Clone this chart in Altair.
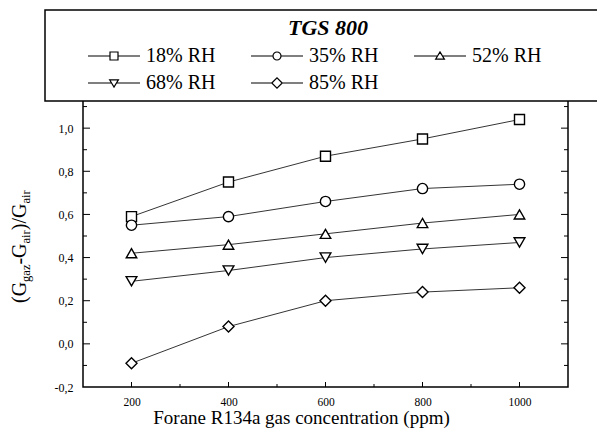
import altair as alt
import pandas as pd

# ---------------- data ----------------
conc = [200, 400, 600, 800, 1000]
series = ["18% RH", "35% RH", "52% RH", "68% RH", "85% RH"]
rh18 = [0.59, 0.75, 0.87, 0.95, 1.04]
rh35 = [0.55, 0.59, 0.66, 0.72, 0.74]
rh52 = [0.42, 0.46, 0.51, 0.56, 0.60]
rh68 = [0.29, 0.34, 0.40, 0.44, 0.47]
rh85 = [-0.09, 0.08, 0.20, 0.24, 0.26]

x_labels = [200, 400, 600, 800, 1000]
x_minor = [300, 500, 700, 900]
y_labels = [-0.2, 0.0, 0.2, 0.4, 0.6, 0.8, 1.0]
y_major = [0.0, 0.2, 0.4, 0.6, 0.8, 1.0, 1.2]
y_minor = [-0.1, 0.1, 0.3, 0.5, 0.7, 0.9, 1.1]

legend_title = "TGS 800"
x_title = "Forane R134a gas concentration (ppm)"

rows = []
for name, vals in zip(series, [rh18, rh35, rh52, rh68, rh85]):
    for c, v in zip(conc, vals):
        rows.append({"conc": c, "val": v, "series": name})
df = pd.DataFrame(rows)

# ---------------- layout ----------------
W, H = 485, 302
PAD = {"left": 83, "top": 85, "right": 29, "bottom": 48}
SERIF = "Liberation Serif"

xs = alt.Scale(domain=[100, 1100], nice=False, zero=False)
ys = alt.Scale(domain=[-0.2, 1.2], nice=False, zero=False)

x_axis = alt.Axis(
    values=x_labels, format="d", domain=False, ticks=False, grid=False,
    labelFont=SERIF, labelFontSize=11.5, labelColor="black", labelPadding=9,
    labelFlush=False, title=x_title, titleFont=SERIF, titleFontSize=19,
    titleFontWeight="normal", titleColor="black", titleX=218, titleY=36,
    titleAlign="center", titleBaseline="alphabetic",
)
y_axis = alt.Axis(
    values=y_labels,
    labelExpr="replace(replace(format(datum.value, '.1f'), '.', ','), '\u2212', '-')",
    domain=False, ticks=False, grid=False, labelFont=SERIF, labelFontSize=12,
    labelColor="black", labelPadding=10, title=None,
)

X = alt.X("conc:Q", scale=xs, axis=x_axis)
Y = alt.Y("val:Q", scale=ys, axis=y_axis)

lines = alt.Chart(df).mark_line(color="black", strokeWidth=0.8).encode(
    x=X, y=Y, detail="series:N"
)

points = alt.Chart(df).mark_point(
    filled=True, fill="white", stroke="black", strokeWidth=1.4, opacity=1
).encode(
    x=X, y=Y,
    shape=alt.Shape("series:N", legend=None, scale=alt.Scale(
        domain=series,
        range=["square", "circle", "triangle-up", "triangle-down", "diamond"])),
    size=alt.Size("series:N", legend=None, scale=alt.Scale(
        domain=series, range=[100, 121, 150, 150, 140])),
)

# tick marks (inward), drawn from the tick value lists through the scales
def yticks(vals, length):
    d = pd.DataFrame({"val": vals})
    left = alt.Chart(d).mark_rule(color="black", strokeWidth=1).encode(
        y=Y, x=alt.value(0), x2=alt.value(length))
    right = alt.Chart(d).mark_rule(color="black", strokeWidth=1).encode(
        y=Y, x=alt.value(W), x2=alt.value(W - length))
    return [left, right]

def xticks(vals, length):
    d = pd.DataFrame({"conc": vals})
    return [alt.Chart(d).mark_rule(color="black", strokeWidth=1).encode(
        x=X, y=alt.value(H), y2=alt.value(H - length))]

ticks = yticks(y_major, 7) + yticks(y_minor, 4) + xticks(x_labels, 5) + xticks(x_minor, 3)

# legend: symbols are line-shape-line glyphs
def glyph(shape, half, extra=""):
    return f"M-6.5,0H-{half}M{half},0H6.5" + shape + extra

legend_paths = [
    glyph("M-1,-1H1V1H-1Z", 1),
    glyph("M-1,0A1,1 0 1,1 1,0A1,1 0 1,1 -1,0Z", 1),
    glyph("M-1.1,0.8L0,-1L1.1,0.8Z", 0.6, "M40,0"),
    glyph("M-1.1,-0.8L0,1L1.1,-0.8Z", 0.6),
    glyph("M-1.3,0L0,-1.3L1.3,0L0,1.3Z", 1.3),
]

legend_layer = alt.Chart(df).transform_filter("false").mark_point(
    filled=False, color="black", size=64, strokeWidth=1.2, opacity=1
).encode(
    shape=alt.Shape("series:N", scale=alt.Scale(domain=series, range=legend_paths),
        legend=alt.Legend(
            orient="none", legendX=-38, legendY=-75, columns=3,
            direction="horizontal",
            title=legend_title + "\u00a0" * 20,
            titleFont=SERIF, titleFontSize=22, titleFontWeight="bold",
            titleFontStyle="italic", titleColor="black", titleAnchor="middle",
            titleAlign="center", titlePadding=6, titleLimit=800,
            labelFont=SERIF, labelFontSize=20, labelColor="black",
            labelOffset=22, symbolOffset=51, symbolSize=64,
            symbolStrokeWidth=1.2, symbolStrokeColor="black",
            symbolFillColor="transparent", columnPadding=0, rowPadding=7,
            padding=8, fillColor="white", strokeColor="black",
            gridAlign="each", labelLimit=400,
        ))
)

# y-axis title with subscripts, as rotated text pieces
char_w = {"(": 0.333, ")": 0.333, "G": 0.722, "-": 0.333, "/": 0.278,
          "g": 0.5, "a": 0.444, "z": 0.444, "i": 0.278, "r": 0.333}
pieces = [("(G", 20, -57), ("gaz", 12.5, -53.5), ("-G", 20, -57),
          ("air", 12.5, -53.5), (")/G", 20, -57), ("air", 12.5, -53.5)]
title_layers = []
ypos = 218.0
one = alt.Data(values=[{"k": 1}])
for txt, fs, xp in pieces:
    title_layers.append(
        alt.Chart(one).mark_text(
            angle=270, align="left", baseline="alphabetic", font=SERIF,
            fontSize=fs, color="black"
        ).encode(x=alt.value(xp), y=alt.value(ypos), text=alt.value(txt))
    )
    ypos -= sum(char_w[c] for c in txt) * fs

chart = alt.layer(
    *ticks, lines, points, legend_layer, *title_layers
).resolve_scale(shape="independent").properties(
    width=W, height=H, padding=PAD, autosize="none", background="white"
).configure_view(stroke="black", strokeWidth=1.5).configure_legend(strokeWidth=1.5)

chart.save("out.html", embed_options={"renderer": "svg", "actions": False})
